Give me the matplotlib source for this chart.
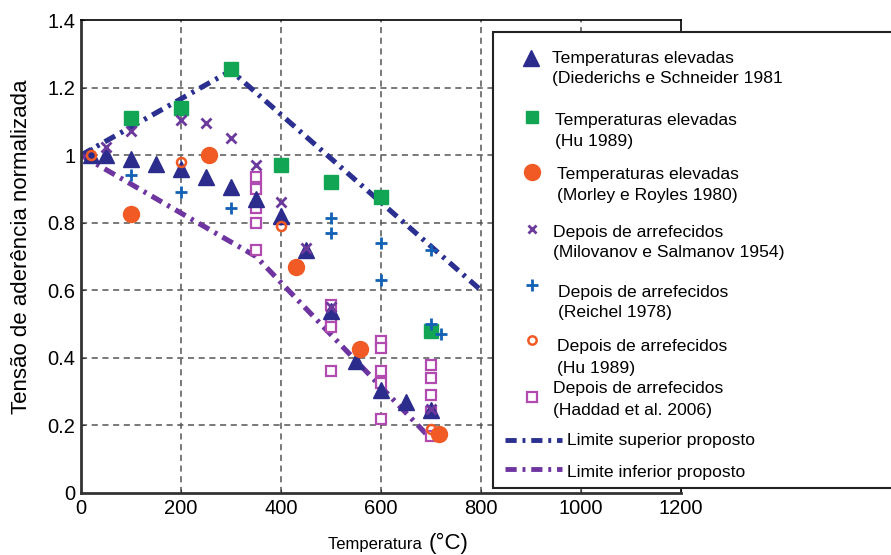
import matplotlib
matplotlib.use("Agg")
import matplotlib.pyplot as plt
from matplotlib.patches import Rectangle
from matplotlib.lines import Line2D

# ---------------- data ----------------
diederichs_T = [20, 50, 100, 150, 200, 250, 300, 350, 400, 450, 500, 550, 600, 650, 700]
diederichs_v = [1.0, 1.0, 0.99, 0.975, 0.96, 0.935, 0.905, 0.87, 0.82, 0.72, 0.54, 0.39, 0.305, 0.27, 0.245]

hu_hot_T = [100, 200, 300, 400, 500, 600, 700]
hu_hot_v = [1.11, 1.14, 1.255, 0.97, 0.92, 0.875, 0.48]

morley_T = [100, 255, 430, 558, 715]
morley_v = [0.825, 1.0, 0.67, 0.425, 0.175]

milovanov_T = [50, 100, 200, 250, 300, 350, 400, 450, 500, 700]
milovanov_v = [1.025, 1.07, 1.105, 1.095, 1.05, 0.97, 0.86, 0.725, 0.55, 0.25]

reichel_T = [100, 200, 300, 500, 500, 600, 600, 700, 700, 720]
reichel_v = [0.94, 0.89, 0.845, 0.815, 0.77, 0.74, 0.63, 0.72, 0.50, 0.47]

hu_cool_T = [20, 200, 400, 700]
hu_cool_v = [1.0, 0.98, 0.79, 0.19]

haddad_T = [350, 350, 350, 350, 350, 500, 500, 500, 500,
            600, 600, 600, 600, 600, 700, 700, 700, 700, 700]
haddad_v = [0.935, 0.90, 0.845, 0.80, 0.72, 0.555, 0.505, 0.49, 0.36,
            0.45, 0.43, 0.36, 0.325, 0.22, 0.38, 0.34, 0.29, 0.24, 0.17]

upper_T = [0, 300, 800]
upper_v = [1.0, 1.25, 0.6]
lower_T = [0, 350, 700]
lower_v = [1.0, 0.70, 0.16]

x_ticks = [0, 200, 400, 600, 800, 1000, 1200]
y_ticks = [0, 0.2, 0.4, 0.6, 0.8, 1.0, 1.2, 1.4]
y_tick_labels = ["0", "0.2", "0.4", "0.6", "0.8", "1", "1.2", "1.4"]

legend_lines = [
    ("Temperaturas elevadas", "(Diederichs e Schneider 1981"),
    ("Temperaturas elevadas", "(Hu 1989)"),
    ("Temperaturas elevadas", "(Morley e Royles 1980)"),
    ("Depois de arrefecidos", "(Milovanov e Salmanov 1954)"),
    ("Depois de arrefecidos", "(Reichel 1978)"),
    ("Depois de arrefecidos", "(Hu 1989)"),
    ("Depois de arrefecidos", "(Haddad et al. 2006)"),
]
limit_labels = ["Limite superior proposto", "Limite inferior proposto"]

# ---------------- styles ----------------
C_NAVY = "#2b2c8c"
C_GREEN = "#12a554"
C_ORANGE = "#f15a24"
C_PURPLE_X = "#6b3a9c"
C_BLUE = "#1261b5"
C_MAGENTA = "#b24bb0"
C_UPPER = "#2a2f90"
C_LOWER = "#6e35a0"
DASH = (0, (2.3, 1.2, 0.6, 1.2))

FONT = ["Liberation Sans", "DejaVu Sans"]
plt.rcParams["font.family"] = FONT

W, H = 891, 555
fig = plt.figure(figsize=(W / 100, H / 100), dpi=100)

def fx(px):
    return px / W

def fy(py):
    return 1 - py / H

ax = fig.add_axes([fx(81), fy(493), fx(681) - fx(81), fy(20) - fy(493)])
ax.set_xlim(0, 1200)
ax.set_ylim(0, 1.4)

ax.set_xticks(x_ticks)
ax.set_xticklabels([str(t) for t in x_ticks], fontsize=14.5)
ax.set_yticks(y_ticks)
ax.set_yticklabels(y_tick_labels, fontsize=14.5)
ax.tick_params(axis="both", direction="in", length=3, width=0.8, color="#333333", pad=4)

for xv in x_ticks[1:-1]:
    ax.axvline(xv, color="#555555", lw=1.1, ls=(0, (4, 3)), zorder=0)
for yv in y_ticks[1:-1]:
    ax.axhline(yv, color="#555555", lw=1.1, ls=(0, (4, 3)), zorder=0)

for s in ["left", "bottom"]:
    ax.spines[s].set_linewidth(2.0)
    ax.spines[s].set_color("#333333")
ax.spines["top"].set_linewidth(1.2)
ax.spines["right"].set_linewidth(1.2)

# limit lines
ax.plot(upper_T, upper_v, color=C_UPPER, lw=3.7, ls=DASH, zorder=2)
ax.plot(lower_T, lower_v, color=C_LOWER, lw=3.7, ls=DASH, zorder=2)

# data markers
ax.plot(haddad_T, haddad_v, ls="none", marker="s", ms=6.5, mfc="white", mec=C_MAGENTA, mew=1.6, zorder=3)
ax.plot(diederichs_T, diederichs_v, ls="none", marker="^", ms=12, color=C_NAVY, zorder=3)
ax.plot(hu_hot_T, hu_hot_v, ls="none", marker="s", ms=9.5, color=C_GREEN, zorder=3)
ax.plot(morley_T, morley_v, ls="none", marker="o", ms=11.5, color=C_ORANGE, zorder=3)
ax.plot(milovanov_T, milovanov_v, ls="none", marker="x", ms=7, mew=2.0, color=C_PURPLE_X, zorder=4)
ax.plot(reichel_T, reichel_v, ls="none", marker="+", ms=9, mew=2.0, color=C_BLUE, zorder=4)
ax.plot(hu_cool_T, hu_cool_v, ls="none", marker="o", ms=6.5, mfc="none", mec=C_ORANGE, mew=1.8, zorder=4)

ax.set_ylabel("Tensão de aderência normalizada", fontsize=16)
ax.yaxis.set_label_coords(-0.082, 0.52)
fig.text(fx(426), fy(545), "Temperatura ", fontsize=12, ha="right", va="center")
fig.text(fx(429), fy(543), "(°C)", fontsize=16, ha="left", va="center")

# ---------------- legend box (extends past right edge) ----------------
fig.add_artist(Rectangle((fx(493), fy(488)), fx(900) - fx(493), fy(32) - fy(488),
                         transform=fig.transFigure, facecolor="white",
                         edgecolor="#222222", lw=1.5, zorder=5))

marker_specs = [
    dict(marker="^", ms=12, color=C_NAVY),
    dict(marker="s", ms=8.5, color=C_GREEN),
    dict(marker="o", ms=11.5, color=C_ORANGE),
    dict(marker="x", ms=6, mew=2.0, color=C_PURPLE_X),
    dict(marker="+", ms=8, mew=2.0, color=C_BLUE),
    dict(marker="o", ms=6, mfc="none", mec=C_ORANGE, mew=1.8),
    dict(marker="s", ms=6.5, mfc="white", mec=C_MAGENTA, mew=1.6),
]
marker_pos = [(531, 58), (532, 117), (532, 172), (532, 229), (532, 285), (532, 340), (532, 397)]
text_pos = [(552, 58, 79), (555, 120, 141), (557, 175, 196), (553, 232, 253),
            (558, 292, 313), (557, 347, 368), (553, 389, 410)]

LEG_FS = 12.6
for (l1, l2), spec, (mx, my), (tx, ty1, ty2) in zip(legend_lines, marker_specs, marker_pos, text_pos):
    fig.add_artist(Line2D([fx(mx)], [fy(my)], transform=fig.transFigure, ls="none", zorder=6, **spec))
    fig.text(fx(tx), fy(ty1), l1, fontsize=LEG_FS, va="center", ha="left", zorder=6)
    fig.text(fx(tx), fy(ty2), l2, fontsize=LEG_FS, va="center", ha="left", zorder=6)

for label, col, py, ty in zip(limit_labels, [C_UPPER, C_LOWER], [440, 469], [440, 472]):
    fig.add_artist(Line2D([fx(505), fx(562)], [fy(py), fy(py)], transform=fig.transFigure,
                          color=col, lw=3.5, ls=DASH, zorder=6))
    fig.text(fx(567), fy(ty), label, fontsize=LEG_FS, va="center", ha="left", zorder=6)

fig.savefig("out.png", dpi=100)
